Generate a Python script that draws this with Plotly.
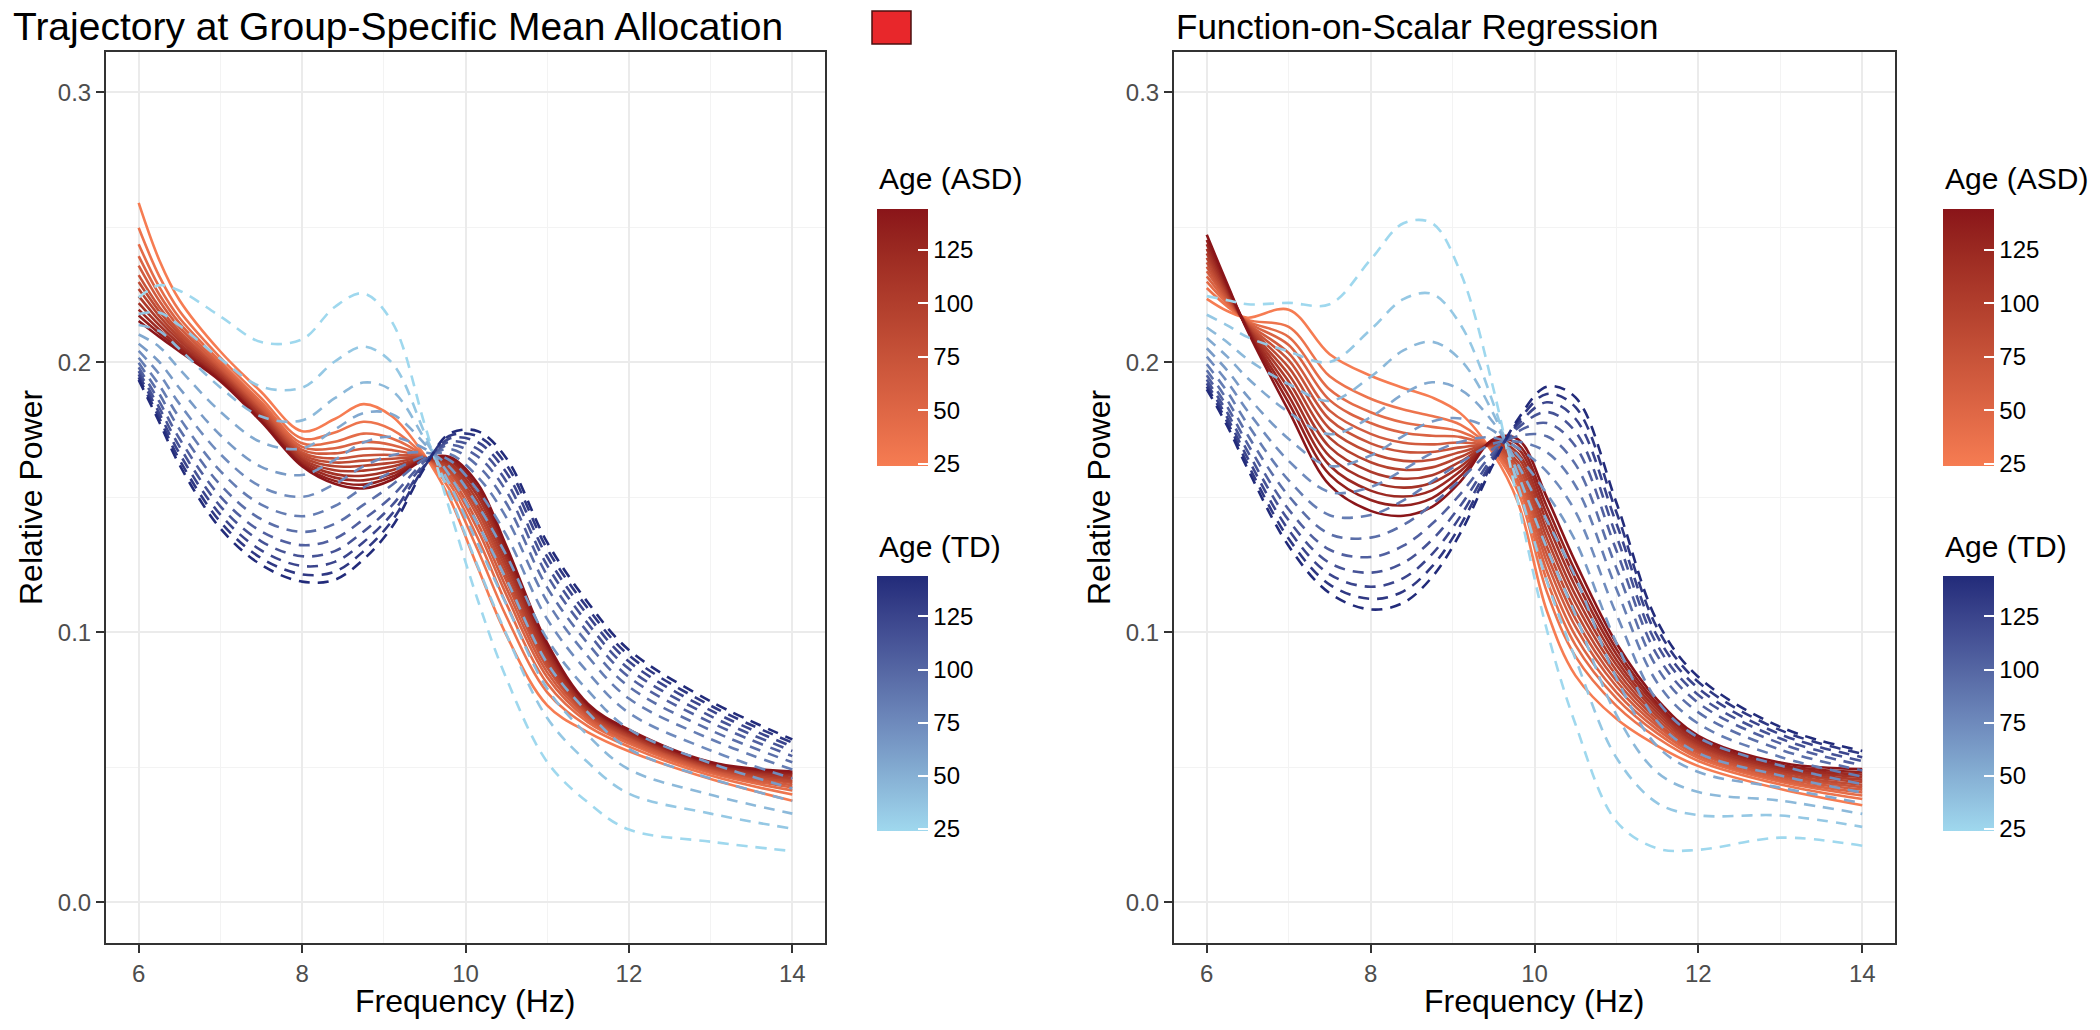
import plotly.graph_objects as go

# ---------------- data ----------------
FREQ = [6.0, 6.25, 6.5, 7.0, 7.5, 8.0, 8.4, 8.75, 9.1, 9.5, 9.8, 10.15, 10.5, 11.0, 11.5, 12.0, 13.0, 14.0]
AGES = [24, 34, 44, 54, 64, 74, 84, 94, 104, 114, 124, 134, 144]
AGE_TICKS = [25, 50, 75, 100, 125]
X_TICKS = [6, 8, 10, 12, 14]
Y_TICKS = [0.0, 0.1, 0.2, 0.3]

# Panel 1: Trajectory at Group-Specific Mean Allocation (rows = AGES)
TRAJ_ASD = [
    [0.259, 0.238, 0.223, 0.204, 0.189, 0.1745, 0.179, 0.1845, 0.180, 0.1655, 0.150, 0.124, 0.099, 0.073, 0.063, 0.056, 0.0457, 0.0377],
    [0.2498, 0.232, 0.219, 0.2017, 0.1867, 0.1718, 0.174, 0.178, 0.1751, 0.1652, 0.1532, 0.1305, 0.1059, 0.0778, 0.0652, 0.0577, 0.047, 0.040],
    [0.2437, 0.228, 0.2164, 0.2002, 0.1852, 0.170, 0.1706, 0.1736, 0.1718, 0.165, 0.1553, 0.1349, 0.1106, 0.0811, 0.0667, 0.0588, 0.0479, 0.0415],
    [0.2393, 0.2252, 0.2145, 0.1991, 0.1841, 0.1687, 0.1682, 0.1705, 0.1694, 0.1648, 0.1568, 0.138, 0.1139, 0.0834, 0.0677, 0.0596, 0.0485, 0.0426],
    [0.2358, 0.2229, 0.2129, 0.1982, 0.1832, 0.1676, 0.1663, 0.168, 0.1675, 0.1647, 0.158, 0.1404, 0.1165, 0.0852, 0.0686, 0.0602, 0.049, 0.0434],
    [0.2323, 0.2206, 0.2114, 0.1973, 0.1823, 0.1666, 0.1644, 0.1655, 0.1657, 0.1646, 0.1592, 0.1429, 0.1191, 0.087, 0.0694, 0.0609, 0.0495, 0.0443],
    [0.2297, 0.2189, 0.2103, 0.1966, 0.1816, 0.1658, 0.1629, 0.1636, 0.1643, 0.1645, 0.160, 0.1448, 0.1211, 0.0884, 0.070, 0.0614, 0.0499, 0.0449],
    [0.2271, 0.2172, 0.2091, 0.196, 0.181, 0.165, 0.1615, 0.1617, 0.1628, 0.1644, 0.161, 0.1466, 0.1231, 0.0898, 0.0707, 0.0618, 0.0503, 0.0456],
    [0.2245, 0.2155, 0.208, 0.1953, 0.1803, 0.1642, 0.160, 0.1599, 0.1614, 0.1643, 0.1619, 0.1485, 0.1251, 0.0912, 0.0713, 0.0623, 0.0507, 0.0462],
    [0.2219, 0.2138, 0.2068, 0.1947, 0.1797, 0.1635, 0.1586, 0.158, 0.160, 0.1642, 0.1628, 0.1504, 0.1271, 0.0926, 0.0719, 0.0628, 0.0511, 0.0469],
    [0.2195, 0.2122, 0.2058, 0.194, 0.179, 0.1627, 0.1573, 0.1563, 0.1587, 0.1641, 0.1636, 0.1521, 0.1289, 0.0938, 0.0725, 0.0632, 0.0514, 0.0475],
    [0.2173, 0.2108, 0.2049, 0.1935, 0.1785, 0.1621, 0.1561, 0.1547, 0.1576, 0.1641, 0.1643, 0.1536, 0.1305, 0.095, 0.073, 0.0636, 0.0517, 0.048],
    [0.2153, 0.2095, 0.204, 0.193, 0.178, 0.1615, 0.155, 0.1533, 0.1565, 0.164, 0.165, 0.155, 0.132, 0.096, 0.0735, 0.064, 0.052, 0.0485],
]
TRAJ_TD = [
    [0.224, 0.2285, 0.2265, 0.217, 0.2075, 0.2085, 0.2205, 0.2255, 0.215, 0.177, 0.146, 0.112, 0.083, 0.052, 0.037, 0.027, 0.0225, 0.019],
    [0.2179, 0.2184, 0.2136, 0.2013, 0.191, 0.1906, 0.2003, 0.2058, 0.1998, 0.1738, 0.1515, 0.1245, 0.0993, 0.0683, 0.0518, 0.0403, 0.0329, 0.0273],
    [0.2138, 0.2116, 0.2049, 0.1907, 0.1799, 0.1785, 0.1867, 0.1925, 0.1895, 0.1716, 0.1552, 0.1329, 0.1103, 0.0792, 0.0618, 0.0493, 0.0399, 0.0329],
    [0.2103, 0.2058, 0.1975, 0.1817, 0.1704, 0.1681, 0.1751, 0.1812, 0.1808, 0.1698, 0.1584, 0.1401, 0.1197, 0.0886, 0.0703, 0.0569, 0.0459, 0.0376],
    [0.2069, 0.2002, 0.1904, 0.173, 0.1613, 0.1583, 0.1639, 0.1703, 0.1724, 0.168, 0.1614, 0.147, 0.1286, 0.0975, 0.0784, 0.0642, 0.0516, 0.0422],
    [0.2042, 0.1957, 0.1846, 0.166, 0.1539, 0.1502, 0.1549, 0.1615, 0.1656, 0.1666, 0.1639, 0.1526, 0.136, 0.1049, 0.0851, 0.0702, 0.0563, 0.0459],
    [0.2017, 0.1916, 0.1794, 0.1597, 0.1473, 0.143, 0.1468, 0.1536, 0.1595, 0.1653, 0.1661, 0.1576, 0.1425, 0.1114, 0.091, 0.0755, 0.0605, 0.0492],
    [0.1998, 0.1884, 0.1752, 0.1546, 0.1419, 0.1372, 0.1402, 0.1472, 0.1546, 0.1643, 0.1679, 0.1617, 0.1478, 0.1166, 0.0958, 0.0799, 0.0638, 0.0519],
    [0.1981, 0.1856, 0.1717, 0.1503, 0.1374, 0.1323, 0.1347, 0.1418, 0.1504, 0.1634, 0.1694, 0.1651, 0.1523, 0.1211, 0.0999, 0.0835, 0.0667, 0.0542],
    [0.1967, 0.1833, 0.1688, 0.1467, 0.1337, 0.1282, 0.1301, 0.1373, 0.147, 0.1627, 0.1706, 0.1679, 0.1559, 0.1248, 0.1032, 0.0865, 0.069, 0.0561],
    [0.1955, 0.1813, 0.1662, 0.1436, 0.1304, 0.1246, 0.1261, 0.1334, 0.1439, 0.162, 0.1717, 0.1704, 0.1592, 0.128, 0.1062, 0.0892, 0.0711, 0.0577],
    [0.1944, 0.1795, 0.1639, 0.1409, 0.1275, 0.1215, 0.1225, 0.13, 0.1413, 0.1615, 0.1727, 0.1726, 0.1621, 0.1309, 0.1088, 0.0915, 0.0729, 0.0592],
    [0.1935, 0.178, 0.162, 0.1385, 0.125, 0.1188, 0.1195, 0.127, 0.139, 0.161, 0.1735, 0.1745, 0.1645, 0.1333, 0.111, 0.0935, 0.0745, 0.0604],
]

# Panel 2: Function-on-Scalar Regression (rows = AGES)
FOSR_ASD = [
    [0.2235, 0.219, 0.2165, 0.2195, 0.203, 0.195, 0.1905, 0.187, 0.181, 0.166, 0.148, 0.108, 0.084, 0.068, 0.058, 0.0505, 0.042, 0.036],
    [0.2275, 0.2207, 0.2157, 0.2131, 0.1948, 0.1865, 0.1825, 0.1801, 0.1768, 0.1669, 0.152, 0.1151, 0.0911, 0.0728, 0.0609, 0.0524, 0.0437, 0.0383],
    [0.2299, 0.2217, 0.2152, 0.2094, 0.1899, 0.1815, 0.1777, 0.1761, 0.1743, 0.1675, 0.1544, 0.1193, 0.0953, 0.0756, 0.0626, 0.0535, 0.0447, 0.0396],
    [0.2318, 0.2225, 0.2148, 0.2064, 0.186, 0.1775, 0.1739, 0.1728, 0.1723, 0.1679, 0.1562, 0.1227, 0.0987, 0.0778, 0.064, 0.0544, 0.0454, 0.0407],
    [0.2337, 0.2233, 0.2144, 0.2034, 0.1821, 0.1735, 0.1702, 0.1696, 0.1703, 0.1684, 0.1581, 0.1261, 0.1021, 0.08, 0.0653, 0.0553, 0.0462, 0.0418],
    [0.2354, 0.224, 0.214, 0.2008, 0.1788, 0.17, 0.1669, 0.1668, 0.1685, 0.1688, 0.1598, 0.129, 0.105, 0.082, 0.0665, 0.0561, 0.0469, 0.0427],
    [0.237, 0.2247, 0.2137, 0.1981, 0.1754, 0.1665, 0.1635, 0.1639, 0.1668, 0.1691, 0.1614, 0.1319, 0.1079, 0.084, 0.0677, 0.0569, 0.0476, 0.0436],
    [0.2387, 0.2254, 0.2133, 0.1955, 0.172, 0.163, 0.1602, 0.1611, 0.165, 0.1695, 0.163, 0.1349, 0.1109, 0.0859, 0.0689, 0.0577, 0.0483, 0.0446],
    [0.2403, 0.2261, 0.213, 0.1929, 0.1686, 0.1595, 0.1569, 0.1582, 0.1633, 0.1699, 0.1647, 0.1378, 0.1138, 0.0879, 0.0701, 0.0585, 0.049, 0.0455],
    [0.242, 0.2268, 0.2126, 0.1903, 0.1652, 0.156, 0.1536, 0.1554, 0.1615, 0.1703, 0.1663, 0.1408, 0.1168, 0.0898, 0.0713, 0.0592, 0.0496, 0.0465],
    [0.2437, 0.2275, 0.2123, 0.1876, 0.1618, 0.1525, 0.1503, 0.1526, 0.1598, 0.1707, 0.168, 0.1437, 0.1197, 0.0918, 0.0725, 0.06, 0.0503, 0.0474],
    [0.2453, 0.2282, 0.2119, 0.185, 0.1584, 0.149, 0.147, 0.1497, 0.158, 0.1711, 0.1696, 0.1466, 0.1226, 0.0938, 0.0736, 0.0608, 0.051, 0.0483],
    [0.2472, 0.229, 0.2115, 0.182, 0.1545, 0.145, 0.1432, 0.1465, 0.156, 0.1715, 0.1715, 0.150, 0.126, 0.096, 0.075, 0.0617, 0.0518, 0.0494],
]
FOSR_TD = [
    [0.2245, 0.223, 0.2215, 0.222, 0.2215, 0.238, 0.2515, 0.2515, 0.233, 0.190, 0.148, 0.101, 0.066, 0.030, 0.020, 0.0195, 0.024, 0.021],
    [0.2176, 0.2137, 0.2093, 0.204, 0.2001, 0.2121, 0.2234, 0.2253, 0.2138, 0.1845, 0.1542, 0.119, 0.0902, 0.0536, 0.0368, 0.0323, 0.0322, 0.028],
    [0.2129, 0.2074, 0.2011, 0.1919, 0.1857, 0.1946, 0.2044, 0.2076, 0.2008, 0.1808, 0.1584, 0.1312, 0.1065, 0.0695, 0.0481, 0.0409, 0.0377, 0.0328],
    [0.209, 0.2021, 0.1941, 0.1815, 0.1734, 0.1797, 0.1883, 0.1926, 0.1898, 0.1776, 0.162, 0.1415, 0.1205, 0.0831, 0.0578, 0.0483, 0.0425, 0.0368],
    [0.2052, 0.197, 0.1873, 0.1716, 0.1616, 0.1655, 0.1728, 0.1781, 0.1792, 0.1746, 0.1654, 0.1514, 0.1338, 0.0961, 0.067, 0.0553, 0.047, 0.0407],
    [0.2021, 0.1928, 0.1819, 0.1635, 0.152, 0.1538, 0.1602, 0.1664, 0.1706, 0.1721, 0.1682, 0.1595, 0.1447, 0.1067, 0.0746, 0.0611, 0.0507, 0.0438],
    [0.1993, 0.1891, 0.177, 0.1563, 0.1434, 0.1435, 0.1489, 0.1559, 0.1629, 0.1699, 0.1706, 0.1667, 0.1543, 0.1161, 0.0813, 0.0662, 0.0539, 0.0466],
    [0.1971, 0.186, 0.173, 0.1505, 0.1364, 0.1351, 0.1398, 0.1474, 0.1567, 0.1681, 0.1727, 0.1726, 0.1622, 0.1238, 0.0868, 0.0704, 0.0566, 0.0489],
    [0.1952, 0.1835, 0.1697, 0.1455, 0.1306, 0.1279, 0.1321, 0.1402, 0.1514, 0.1666, 0.1744, 0.1775, 0.1689, 0.1303, 0.0914, 0.0739, 0.0589, 0.0508],
    [0.1936, 0.1814, 0.1669, 0.1415, 0.1257, 0.1221, 0.1258, 0.1343, 0.1471, 0.1654, 0.1758, 0.1816, 0.1743, 0.1356, 0.0952, 0.0768, 0.0607, 0.0524],
    [0.1922, 0.1795, 0.1645, 0.1379, 0.1215, 0.1169, 0.1201, 0.129, 0.1432, 0.1643, 0.177, 0.1852, 0.1791, 0.1403, 0.0985, 0.0793, 0.0623, 0.0538],
    [0.191, 0.1779, 0.1623, 0.1347, 0.1177, 0.1124, 0.1152, 0.1244, 0.1399, 0.1633, 0.1781, 0.1883, 0.1834, 0.1445, 0.1015, 0.0816, 0.0638, 0.0551],
    [0.190, 0.1765, 0.1605, 0.132, 0.1145, 0.1085, 0.111, 0.1205, 0.137, 0.1625, 0.179, 0.191, 0.187, 0.148, 0.104, 0.0835, 0.065, 0.0561],
]

PANEL_TITLES = ["Trajectory at Group-Specific Mean Allocation", "Function-on-Scalar Regression"]
X_TITLE = "Frequency (Hz)"
Y_TITLE = "Relative Power"
LEGEND_TITLES = ["Age (ASD)", "Age (TD)"]

# ---------------- styling ----------------
W, H = 2100, 1030
FONT = "Liberation Sans, Arial, Helvetica, sans-serif"
ASD_LOW, ASD_HIGH = "#F67C52", "#8A1519"
TD_LOW, TD_HIGH = "#9FD8EE", "#222B7A"


def _hex(h):
    h = h.lstrip("#")
    return [int(h[i:i + 2], 16) for i in (0, 2, 4)]


def _to_lab(rgb):
    def lin(c):
        c = c / 255.0
        return c / 12.92 if c <= 0.04045 else ((c + 0.055) / 1.055) ** 2.4
    r, g, b = (lin(c) for c in rgb)
    x = (0.4124 * r + 0.3576 * g + 0.1805 * b) / 0.95047
    y = (0.2126 * r + 0.7152 * g + 0.0722 * b)
    z = (0.0193 * r + 0.1192 * g + 0.9505 * b) / 1.08883

    def f(t):
        return t ** (1 / 3) if t > 0.008856 else 7.787 * t + 16 / 116
    fx, fy, fz = f(x), f(y), f(z)
    return [116 * fy - 16, 500 * (fx - fy), 200 * (fy - fz)]


def _from_lab(lab):
    L, a, b = lab
    fy = (L + 16) / 116
    fx = fy + a / 500
    fz = fy - b / 200

    def finv(t):
        return t ** 3 if t ** 3 > 0.008856 else (t - 16 / 116) / 7.787
    x, y, z = finv(fx) * 0.95047, finv(fy), finv(fz) * 1.08883
    r = 3.2406 * x - 1.5372 * y - 0.4986 * z
    g = -0.9689 * x + 1.8758 * y + 0.0415 * z
    bb = 0.0557 * x - 0.2040 * y + 1.0570 * z

    def gam(c):
        c = max(0.0, min(1.0, c))
        c = 12.92 * c if c <= 0.0031308 else 1.055 * c ** (1 / 2.4) - 0.055
        return int(round(c * 255))
    return "rgb(%d,%d,%d)" % (gam(r), gam(g), gam(bb))


def grad(lo, hi, t):
    a, b = _to_lab(_hex(lo)), _to_lab(_hex(hi))
    return _from_lab([a[i] + (b[i] - a[i]) * t for i in range(3)])


def scale(lo, hi, n=11):
    return [[k / (n - 1), grad(lo, hi, k / (n - 1))] for k in range(n)]


AMIN, AMAX = min(AGES), max(AGES)

fig = go.Figure()

panels = [(TRAJ_ASD, TRAJ_TD, "x", "y"), (FOSR_ASD, FOSR_TD, "x2", "y2")]
for asd, td, xa, ya in panels:
    for age, vals in zip(AGES, asd):
        t = (age - AMIN) / (AMAX - AMIN)
        fig.add_trace(go.Scatter(x=FREQ, y=vals, mode="lines", xaxis=xa, yaxis=ya,
                                 line=dict(color=grad(ASD_LOW, ASD_HIGH, t), width=2.6,
                                           shape="spline", smoothing=1.0),
                                 showlegend=False, hoverinfo="skip"))
    for age, vals in zip(AGES, td):
        t = (age - AMIN) / (AMAX - AMIN)
        fig.add_trace(go.Scatter(x=FREQ, y=vals, mode="lines", xaxis=xa, yaxis=ya,
                                 line=dict(color=grad(TD_LOW, TD_HIGH, t), width=2.6,
                                           dash="11px,8px", shape="spline", smoothing=1.0),
                                 showlegend=False, hoverinfo="skip"))

# colour bars (legends)
LEG_X = [877, 1943]
BAR_W = 51
BARS = [(ASD_LOW, ASD_HIGH, 209, 257), (TD_LOW, TD_HIGH, 576, 255)]
shapes = []
for lx, xa, ya in zip(LEG_X, ["x", "x2"], ["y", "y2"]):
    for (lo, hi, top, ln) in BARS:
        fig.add_trace(go.Scatter(
            x=[FREQ[0]], y=[None], mode="markers", xaxis=xa, yaxis=ya,
            showlegend=False, hoverinfo="skip",
            marker=dict(color=[AMIN], cmin=AMIN, cmax=AMAX, colorscale=scale(lo, hi), showscale=True,
                        colorbar=dict(x=lx / W, xanchor="left", xpad=0, y=1 - top / H, yanchor="top",
                                      ypad=0, len=ln, lenmode="pixels", thickness=BAR_W,
                                      thicknessmode="pixels", outlinewidth=0,
                                      tickvals=AGE_TICKS, ticks="inside", ticklen=10,
                                      tickcolor="white", tickwidth=1.5,
                                      tickfont=dict(family=FONT, size=24, color="#000000"))),
        ))
        # white tick marks on the left edge of the bar (ggplot style)
        for v in AGE_TICKS:
            yy = top + (AMAX - v) / (AMAX - AMIN) * ln
            shapes.append(dict(type="line", xref="paper", yref="paper",
                               x0=lx / W, x1=(lx + 10) / W, y0=1 - yy / H, y1=1 - yy / H,
                               line=dict(color="white", width=1.5)))

axis_common = dict(showline=True, mirror=True, linecolor="#333333", linewidth=2,
                   ticks="outside", ticklen=8, tickwidth=2, tickcolor="#333333",
                   tickfont=dict(family=FONT, size=24, color="#4D4D4D"),
                   showgrid=True, gridcolor="#EBEBEB", gridwidth=2, zeroline=False)
YD = [1 - 943 / H, 1 - 51.7 / H]
fig.update_layout(
    xaxis=dict(domain=[106 / W, 825 / W], range=[5.6, 14.4], tickvals=X_TICKS, anchor="y",
               minor=dict(dtick=1, tick0=5, showgrid=True, gridcolor="#F3F3F3", gridwidth=1), **axis_common),
    yaxis=dict(domain=YD, range=[-0.015, 0.315], tickvals=Y_TICKS, tickformat=".1f", anchor="x",
               minor=dict(dtick=0.05, tick0=0, showgrid=True, gridcolor="#F3F3F3", gridwidth=1), **axis_common),
    xaxis2=dict(domain=[1174 / W, 1895 / W], range=[5.6, 14.4], tickvals=X_TICKS, anchor="y2",
                minor=dict(dtick=1, tick0=5, showgrid=True, gridcolor="#F3F3F3", gridwidth=1), **axis_common),
    yaxis2=dict(domain=YD, range=[-0.015, 0.315], tickvals=Y_TICKS, tickformat=".1f", anchor="x2",
                minor=dict(dtick=0.05, tick0=0, showgrid=True, gridcolor="#F3F3F3", gridwidth=1), **axis_common),
    width=W, height=H, margin=dict(l=0, r=0, t=0, b=0),
    paper_bgcolor="white", plot_bgcolor="white",
    font=dict(family=FONT),
)

ann = []
# panel titles
ann.append(dict(text=PANEL_TITLES[0], x=11 / W, y=1 - 27 / H, xanchor="left", yanchor="middle",
                font=dict(size=39, color="#000000", family=FONT)))
ann.append(dict(text=PANEL_TITLES[1], x=1174 / W, y=1 - 27 / H, xanchor="left", yanchor="middle",
                font=dict(size=35, color="#000000", family=FONT)))
# axis titles
for cx in [(106 + 825) / 2, (1174 + 1895) / 2]:
    ann.append(dict(text=X_TITLE, x=cx / W, y=1 - 1001 / H, xanchor="center", yanchor="middle",
                    font=dict(size=32, color="#000000", family=FONT)))
for cx in [31, 1099]:
    ann.append(dict(text=Y_TITLE, x=cx / W, y=1 - 497 / H, xanchor="center", yanchor="middle",
                    textangle=-90, font=dict(size=32, color="#000000", family=FONT)))
# legend titles
for lx in LEG_X:
    ann.append(dict(text=LEGEND_TITLES[0], x=lx / W, y=1 - 178 / H, xanchor="left", yanchor="middle",
                    font=dict(size=30, color="#000000", family=FONT)))
    ann.append(dict(text=LEGEND_TITLES[1], x=lx / W, y=1 - 546 / H, xanchor="left", yanchor="middle",
                    font=dict(size=30, color="#000000", family=FONT)))
for a in ann:
    a.update(xref="paper", yref="paper", showarrow=False)
fig.update_layout(annotations=ann)

# red square next to the first title
shapes.append(dict(type="rect", xref="paper", yref="paper",
                   x0=872 / W, x1=911 / W, y0=1 - 44 / H, y1=1 - 11 / H,
                   fillcolor="#E8272B", line=dict(color="#4A1010", width=1.5)))
fig.update_layout(shapes=shapes)

fig.write_html("out.html")
